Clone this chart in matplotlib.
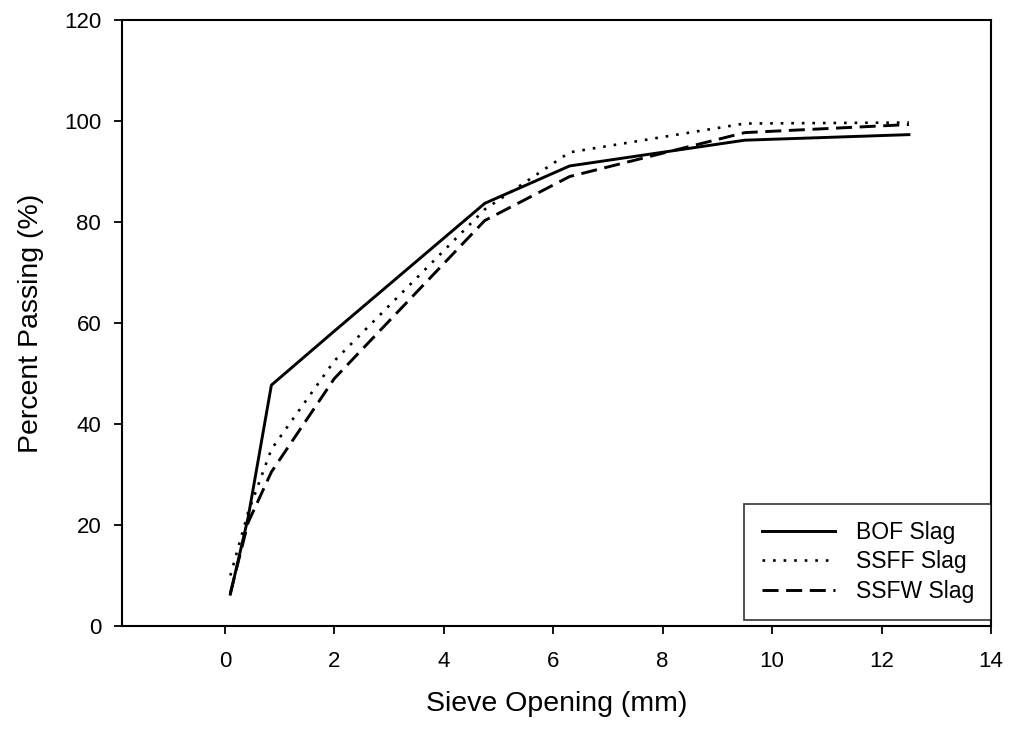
import matplotlib
matplotlib.use("Agg")
import matplotlib.pyplot as plt

plt.rcParams['font.family'] = ['Liberation Sans', 'DejaVu Sans']

sieve_mm = [0.1, 0.425, 0.85, 2.0, 4.75, 6.3, 9.5, 12.5]
bof = [6.3, 21.5, 47.7, 58.4, 83.7, 91.1, 96.2, 97.3]
ssff = [10.0, 22.5, 35.0, 52.5, 82.5, 93.8, 99.5, 99.7]
ssfw = [6.5, 20.5, 30.5, 49.0, 80.3, 89.0, 97.7, 99.3]
labels = ["BOF Slag", "SSFF Slag", "SSFW Slag"]
xticks = [0, 2, 4, 6, 8, 10, 12, 14]
yticks = [0, 20, 40, 60, 80, 100, 120]

fig = plt.figure(figsize=(10.13, 7.33), dpi=100)
ax = fig.add_axes([122/1013, 1-626/733, (991-122)/1013, (626-20)/733])

ax.plot(sieve_mm, bof, color='black', lw=2.1, linestyle='-', label=labels[0])
ax.plot(sieve_mm, ssff, color='black', lw=1.9, linestyle=(0, (1, 3.0)), label=labels[1])
ax.plot(sieve_mm, ssfw, color='black', lw=2.1, linestyle=(0, (5.5, 2.6)), label=labels[2])

ax.set_xlim(-1.88, 14)
ax.set_ylim(0, 120)
ax.set_xticks(xticks)
ax.set_yticks(yticks)
ax.tick_params(direction='out', length=6, width=1.3, labelsize=16)
ax.tick_params(axis='x', pad=12)
ax.tick_params(axis='y', pad=9)
for s in ax.spines.values():
    s.set_linewidth(1.5)

ax.set_xlabel("Sieve Opening (mm)", fontsize=20.5, labelpad=14)
ax.set_ylabel("Percent Passing (%)", fontsize=20.5, labelpad=14)

leg = ax.legend(loc='lower right', bbox_to_anchor=(1.0, 6/606), fontsize=16.5,
                frameon=True, fancybox=False, edgecolor='black',
                handlelength=3.2, borderpad=0.75, labelspacing=0.28,
                handletextpad=0.9, borderaxespad=0.0)
leg.get_frame().set_linewidth(1.2)

fig.savefig("out.png", dpi=100)
